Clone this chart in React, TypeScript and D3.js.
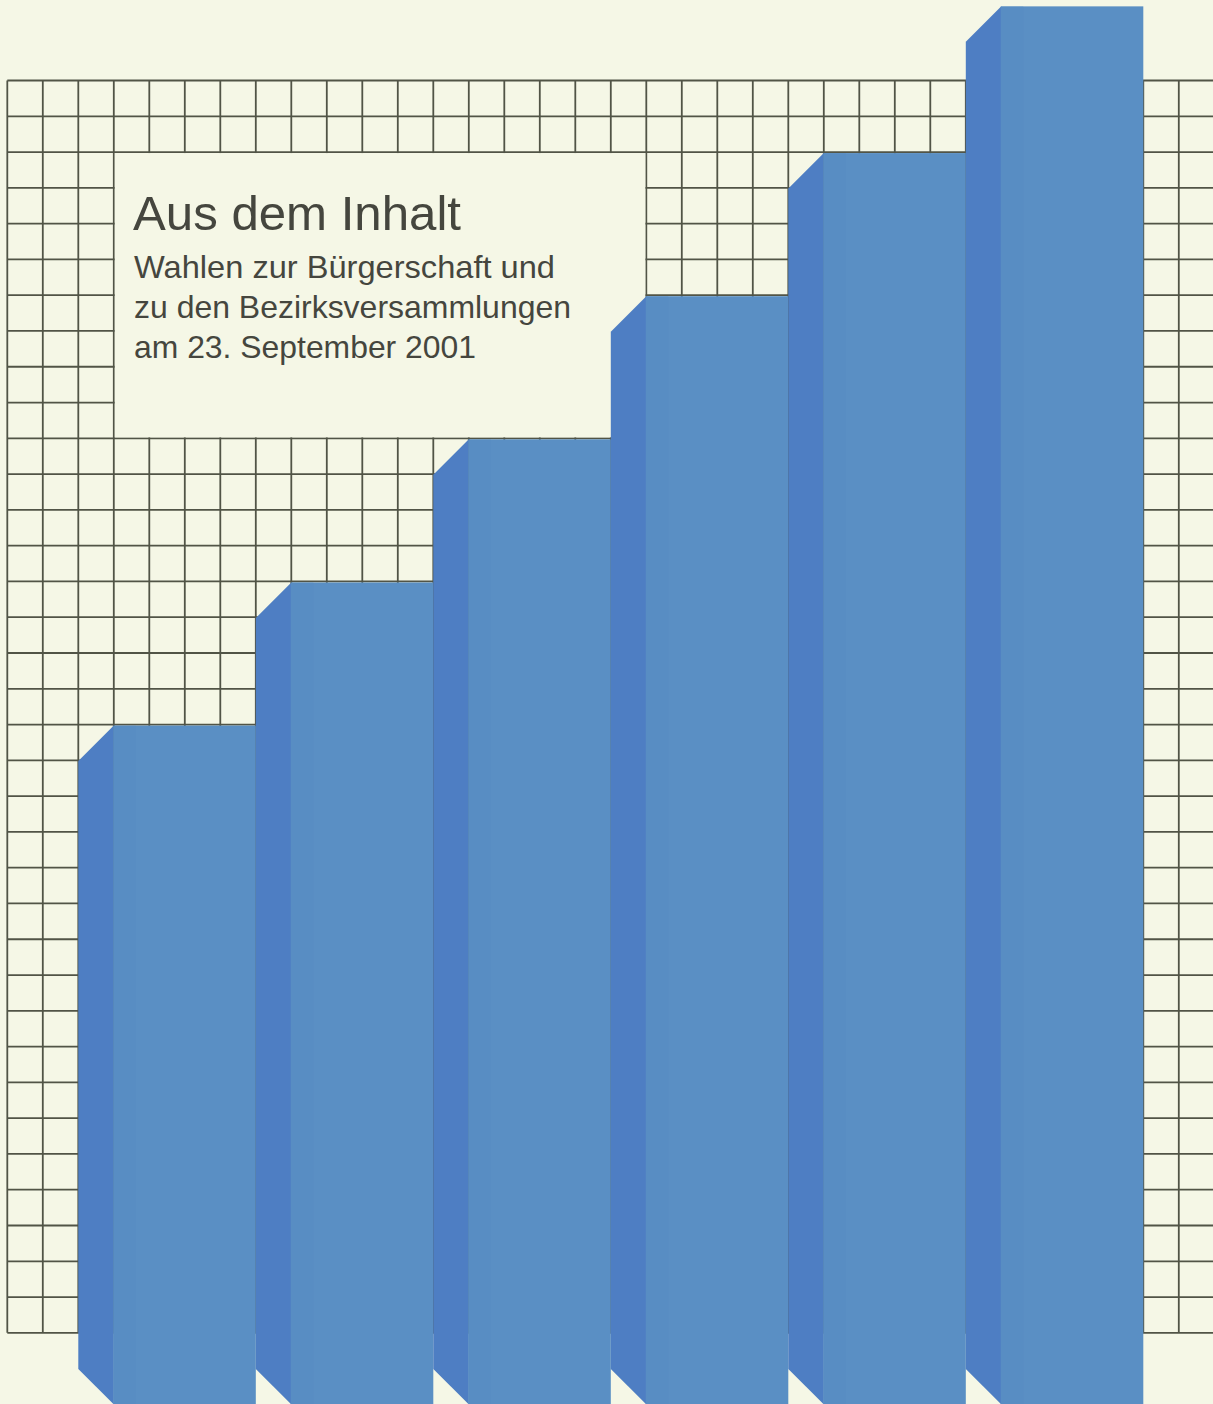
import React from 'react';
import * as d3 from 'd3';

const W = 1213;
const H = 1404;

// Bars (heights in grid units above the baseline)
const categories = ['1', '2', '3', '4', '5', '6'];
const values = [19, 23, 27, 31, 35, 39.1];

// Text
const titleText = 'Aus dem Inhalt';
const subtitleLines = [
  'Wahlen zur Bürgerschaft und',
  'zu den Bezirksversammlungen',
  'am 23. September 2001',
];
const subtitleWidths = [421, 437, 342];

const BG = '#f5f7e6';
const GRID = '#515446';
const FRONT = '#5a8fc4';
const FRONT_DARK = '#5689c3';
const SIDE = '#4e7ec3';
const TEXT = '#45463e';

const nCols = 34;
const nRows = 35;
const baseRows = 37;

export default function App() {
  const xCol = d3.scaleLinear().domain([0, nCols]).range([7.3, 7.3 + nCols * 35.5]);
  const y = d3.scaleLinear().domain([0, baseRows]).range([1404.4, 80.5]);
  const rowY = (r: number) => y(baseRows - r);
  const cell = xCol(1) - xCol(0);
  const xb = d3.scaleBand<string>().domain(categories).range([xCol(2), xCol(32)]).paddingInner(0);

  const cols = d3.range(0, nCols + 1);
  const rows = d3.range(0, nRows + 1);

  // text box region: cols 3..18, rows 2..10
  const boxX0 = xCol(3), boxX1 = xCol(18), boxY0 = rowY(2), boxY1 = rowY(10);

  const base = y(0);

  return (
    <svg width={W} height={H} style={{ position: 'absolute', left: 0, top: 0, display: 'block' }}>
      <rect x={0} y={0} width={W} height={H} fill={BG} />
      <g stroke={GRID} strokeWidth={1.8}>
        {cols.map((c) => (
          <line key={'v' + c} x1={xCol(c)} x2={xCol(c)} y1={rowY(0)} y2={rowY(nRows)} />
        ))}
        {rows.map((r) => (
          <line key={'h' + r} x1={xCol(0)} x2={W + 5} y1={rowY(r)} y2={rowY(r)} />
        ))}
      </g>
      <rect x={boxX0 + 1} y={boxY0 + 1} width={boxX1 - boxX0 - 2} height={boxY1 - boxY0 - 2} fill={BG} />
      <g fontFamily="'Liberation Sans', Arial, Helvetica, sans-serif" fill={TEXT}>
        <text x={133} y={230} fontSize={49} textLength={328} lengthAdjust="spacingAndGlyphs">{titleText}</text>
        {subtitleLines.map((t, i) => (
          <text key={i} x={134} y={278 + i * 40} fontSize={32}
            textLength={subtitleWidths[i]} lengthAdjust="spacingAndGlyphs">{t}</text>
        ))}
      </g>
      <g>
        {categories.map((c, i) => {
          const s = xb(c)!;
          const f0 = s + cell;
          const f1 = s + xb.bandwidth();
          const top = y(values[i]) + 1;
          const side = [
            [s, top + cell],
            [f0, top],
            [f0, base],
            [s, base - cell],
          ];
          return (
            <g key={c}>
              <polygon points={side.map((p) => p.join(',')).join(' ')} fill={SIDE} />
              <rect x={f0 - 0.5} y={top} width={f1 - f0 + 0.5} height={base - top + 2} fill={FRONT} />
              <rect x={f0} y={top} width={22} height={base - top + 2} fill={FRONT_DARK} opacity={0.4} />
            </g>
          );
        })}
      </g>
    </svg>
  );
}
